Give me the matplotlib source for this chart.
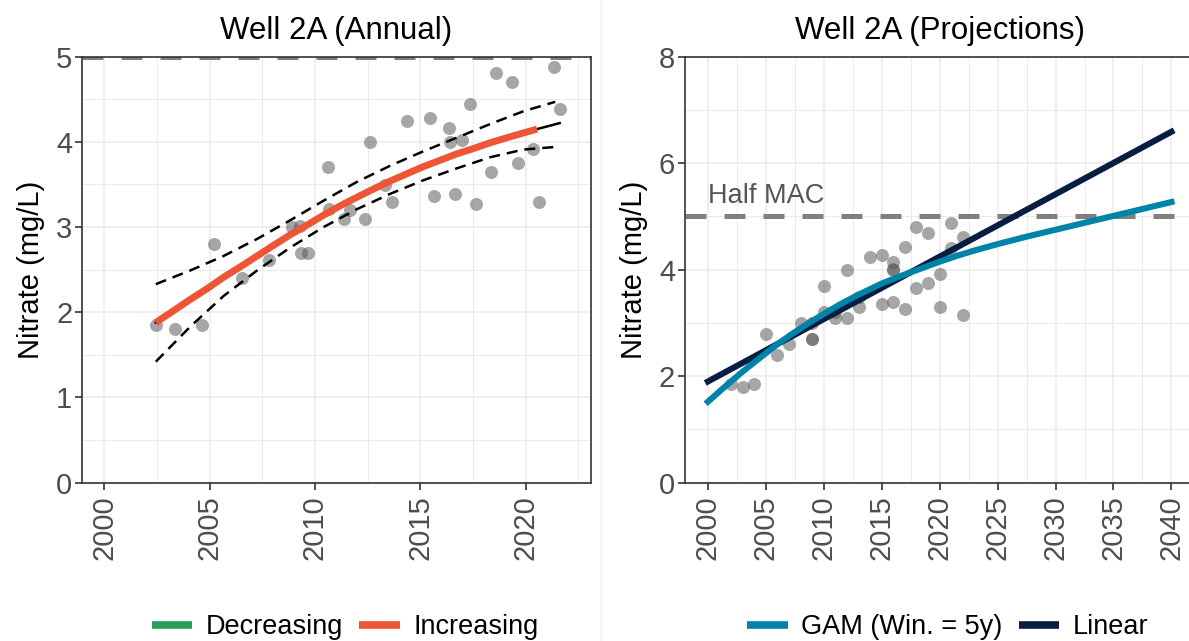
import matplotlib.pyplot as plt
from matplotlib.lines import Line2D
from matplotlib.ticker import MultipleLocator

plt.rcParams['font.family'] = ['Liberation Sans', 'DejaVu Sans']

# ---- left panel: annual samples + trend ----
sample_years = [2002.45, 2003.37, 2004.64, 2005.19, 2006.55, 2007.82, 2008.89, 2009.27,
                2009.34, 2009.65, 2010.63, 2010.69, 2011.36, 2011.64, 2012.37, 2012.62,
                2013.32, 2013.64, 2014.37, 2015.44, 2015.63, 2016.36, 2016.42, 2016.64,
                2016.99, 2017.34, 2017.62, 2018.35, 2018.60, 2019.36, 2019.62, 2020.35,
                2020.63, 2021.36, 2021.61]
sample_nitrate = [1.85, 1.80, 1.85, 2.80, 2.40, 2.61, 3.00, 3.01,
                  2.70, 2.70, 3.70, 3.21, 3.10, 3.20, 3.10, 4.00,
                  3.49, 3.30, 4.25, 4.28, 3.36, 4.16, 4.00, 3.39,
                  4.02, 4.44, 3.27, 3.65, 4.81, 4.70, 3.75, 3.92,
                  3.30, 4.88, 4.39]

trend_years = [2002.45, 2003.3, 2004.08, 2004.9, 2005.66, 2006.5, 2007.25, 2008.0, 2008.83,
               2009.6, 2010.41, 2011.2, 2011.99, 2012.8, 2013.57, 2014.4, 2015.15, 2016.0,
               2016.74, 2017.5, 2018.32, 2019.4, 2020.54]
trend_vals = [1.88, 2.02, 2.15, 2.28, 2.41, 2.54, 2.66, 2.78, 2.91,
              3.02, 3.14, 3.25, 3.35, 3.45, 3.54, 3.63, 3.71, 3.79,
              3.86, 3.92, 3.99, 4.07, 4.15]

fit_years = [2002.45, 2004.08, 2005.66, 2007.25, 2008.83, 2010.41, 2011.99,
             2013.57, 2015.15, 2016.74, 2018.32, 2020.54, 2021.61]
fit_vals = [1.88, 2.15, 2.41, 2.66, 2.91, 3.14, 3.35, 3.54, 3.71, 3.86, 3.99, 4.15, 4.22]

ci_years = [2002.45, 2004.08, 2005.66, 2007.25, 2008.83, 2010.41, 2011.99,
            2013.57, 2015.15, 2016.74, 2018.32, 2019.90, 2021.40]
ci_upper = [2.33, 2.49, 2.66, 2.86, 3.08, 3.31, 3.53, 3.72, 3.89, 4.05, 4.21, 4.36, 4.47]
ci_lower = [1.42, 1.83, 2.19, 2.49, 2.76, 3.00, 3.21, 3.39, 3.55, 3.69, 3.82, 3.91, 3.94]

# ---- right panel: projections ----
proj_years = [2002, 2003, 2004, 2005, 2006, 2007, 2008, 2009, 2009, 2009, 2010, 2010,
              2011, 2011, 2012, 2012, 2013, 2013, 2014, 2015, 2015, 2016, 2016, 2016,
              2016, 2017, 2017, 2018, 2018, 2019, 2019, 2020, 2020, 2021, 2021, 2022, 2022]
proj_nitrate = [1.86, 1.80, 1.85, 2.80, 2.40, 2.60, 3.00, 3.00, 2.70, 2.70, 3.70, 3.20,
                3.10, 3.20, 3.10, 4.00, 3.49, 3.30, 4.24, 4.28, 3.36, 4.15, 4.00, 3.39,
                4.02, 4.43, 3.27, 4.80, 3.65, 4.69, 3.75, 3.92, 3.30, 4.88, 4.40, 4.62, 3.15]

gam_years = [2000, 2001.4, 2002.8, 2004, 2005, 2006, 2007.1, 2008.5, 2010, 2011.5, 2012.9,
             2015, 2016.5, 2018, 2020, 2021.5, 2023, 2025, 2027.5, 2030, 2035, 2040]
gam_vals = [1.52, 1.79, 2.05, 2.26, 2.43, 2.60, 2.77, 2.97, 3.17, 3.36, 3.52,
            3.74, 3.87, 3.99, 4.15, 4.26, 4.36, 4.48, 4.62, 4.75, 5.01, 5.27]

linear_years = [2000, 2040]
linear_vals = [1.90, 6.59]

half_mac = 5
mac_limit = 5

RED = '#ee5535'
GREEN = '#2a9d5c'
GAM_BLUE = '#0083a9'
NAVY = '#071e42'
PT = '#555555'

fig = plt.figure(figsize=(11.89, 6.41), dpi=100)
ax1 = fig.add_axes([0.0690, 0.2470, 0.4281, 0.6646])
ax2 = fig.add_axes([0.5759, 0.2470, 0.4288, 0.6646])


def style(ax, xmaj, ymaj, xmin, ymin):
    ax.set_axisbelow(True)
    ax.xaxis.set_major_locator(MultipleLocator(xmaj))
    ax.yaxis.set_major_locator(MultipleLocator(ymaj))
    ax.xaxis.set_minor_locator(MultipleLocator(xmin))
    ax.yaxis.set_minor_locator(MultipleLocator(ymin))
    ax.grid(which='major', color='#ebebeb', lw=1.1)
    ax.grid(which='minor', color='#ebebeb', lw=0.7)
    for s in ax.spines.values():
        s.set_color('#333333')
        s.set_linewidth(1.2)
    ax.tick_params(which='major', length=5, width=1.2, color='#333333',
                   labelcolor='#4d4d4d', labelsize=21)
    ax.tick_params(axis='y', pad=2)
    ax.tick_params(axis='x', pad=4, labelrotation=90)
    ax.tick_params(which='minor', length=0)
    ax.set_ylabel('Nitrate (mg/L)', fontsize=21, color='black', labelpad=8)


# left panel
style(ax1, 5, 1, 2.5, 0.5)
ax1.axhline(mac_limit, color='#808080', lw=3.6, dashes=(4.2, 3.6), zorder=1)
ax1.scatter(sample_years, sample_nitrate, s=88, color=PT, alpha=0.52, lw=0, zorder=2)
ax1.plot(fit_years, fit_vals, color='black', lw=1.8, zorder=3)
ax1.plot(ci_years, ci_upper, color='black', lw=1.8, dashes=(4.4, 2.8), zorder=3)
ax1.plot(ci_years, ci_lower, color='black', lw=1.8, dashes=(4.4, 2.8), zorder=3)
ax1.plot(trend_years, trend_vals, color=RED, lw=5, solid_capstyle='butt', zorder=4)
ax1.set_xlim(1998.95, 2023.1)
ax1.set_ylim(0, 5)
ax1.set_title('Well 2A (Annual)', fontsize=22.5, pad=13)
h1 = [Line2D([], [], color=GREEN, lw=5.5, solid_capstyle='butt'),
      Line2D([], [], color=RED, lw=5.5, solid_capstyle='butt')]
ax1.legend(h1, ['Decreasing', 'Increasing'], loc='center', bbox_to_anchor=(0.517, -0.339),
           ncol=2, frameon=False, fontsize=19.5, handlelength=1.5, handletextpad=0.5,
           columnspacing=0.6)

# right panel
style(ax2, 5, 2, 2.5, 1)
ax2.axhline(half_mac, color='#808080', lw=3.6, dashes=(4.2, 3.6), zorder=1)
ax2.scatter(proj_years, proj_nitrate, s=88, color=PT, alpha=0.52, lw=0, zorder=2)
ax2.plot(linear_years, linear_vals, color=NAVY, lw=4.4, zorder=3)
ax2.plot(gam_years, gam_vals, color=GAM_BLUE, lw=4.4, zorder=4)
ax2.text(2000, 5.26, 'Half MAC', fontsize=19.5, color='#555555', ha='left', va='baseline')
ax2.set_xlim(1998, 2042)
ax2.set_ylim(0, 8)
ax2.set_title('Well 2A (Projections)', fontsize=22.5, pad=13)
h2 = [Line2D([], [], color=GAM_BLUE, lw=5.5, solid_capstyle='butt'),
      Line2D([], [], color=NAVY, lw=5.5, solid_capstyle='butt')]
ax2.legend(h2, ['GAM (Win. = 5y)', 'Linear'], loc='center', bbox_to_anchor=(0.516, -0.339),
           ncol=2, frameon=False, fontsize=19.5, handlelength=1.5, handletextpad=0.5,
           columnspacing=0.6)

fig.add_artist(Line2D([601 / 1189] * 2, [0, 1], color='#efefef', lw=1,
                      transform=fig.transFigure))

fig.savefig('out.png', dpi=100)
